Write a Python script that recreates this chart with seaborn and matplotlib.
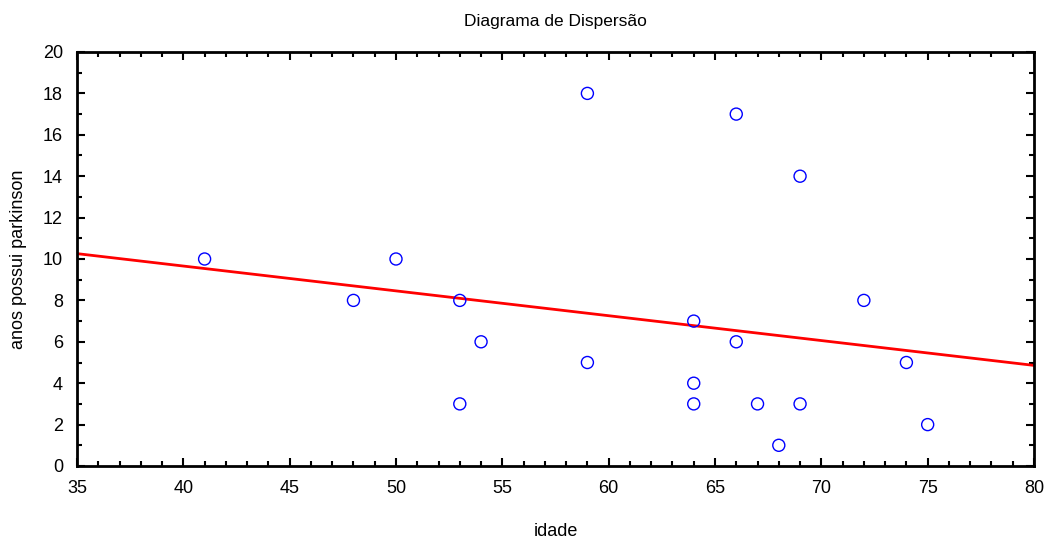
import numpy as np
import pandas as pd
import matplotlib
matplotlib.use("Agg")
import matplotlib.pyplot as plt
import seaborn as sns
from matplotlib.ticker import MultipleLocator

idade = [41, 48, 50, 53, 53, 54, 59, 59, 64, 64, 64, 66, 66, 67, 68, 69, 69, 72, 74, 75]
anos = [10, 8, 10, 8, 3, 6, 18, 5, 7, 4, 3, 17, 6, 3, 1, 14, 3, 8, 5, 2]
x_ticks = [35, 40, 45, 50, 55, 60, 65, 70, 75, 80]
y_ticks = [0, 2, 4, 6, 8, 10, 12, 14, 16, 18, 20]

df = pd.DataFrame({"idade": idade, "anos": anos})

sns.set_theme(style="ticks")
plt.rcParams['font.family'] = ['Liberation Sans', 'DejaVu Sans']
plt.rcParams['text.color'] = 'black'
plt.rcParams['axes.labelcolor'] = 'black'
plt.rcParams['xtick.color'] = 'black'
plt.rcParams['ytick.color'] = 'black'

fig = plt.figure(figsize=(10.47, 5.39), dpi=100)
ax = fig.add_axes([77/1047, 1 - 466/539, (1034-77)/1047, (466-52)/539])
ax.set_xlim(35, 80)
ax.set_ylim(0, 20)

sns.regplot(data=df, x="idade", y="anos", ax=ax, scatter=False, ci=None,
            truncate=False, line_kws=dict(color="#ff0000", lw=2))
sns.scatterplot(data=df, x="idade", y="anos", ax=ax, marker="o", s=75,
                facecolor="none", edgecolor="#0000ff", linewidth=1.0, zorder=3)

ax.set_xlim(35, 80)
ax.set_ylim(0, 20)
ax.set_xticks(x_ticks)
ax.set_yticks(y_ticks)
ax.xaxis.set_minor_locator(MultipleLocator(1))
ax.yaxis.set_minor_locator(MultipleLocator(1))
ax.tick_params(which="both", direction="in", top=True, right=True, color="black",
               labelcolor="black")
ax.tick_params(which="major", length=6, width=1.5, labelsize=13, pad=10)
ax.tick_params(which="minor", length=3.5, width=1.5)
for s in ax.spines.values():
    s.set_linewidth(2)
    s.set_color("black")

ax.set_xlabel("idade", fontsize=13, labelpad=19)
ax.set_ylabel("anos possui parkinson", fontsize=13, labelpad=11.5)
ax.set_title("Diagrama de Dispersão", fontsize=12.5, pad=19, color="black")

fig.savefig("out.png", dpi=100)
